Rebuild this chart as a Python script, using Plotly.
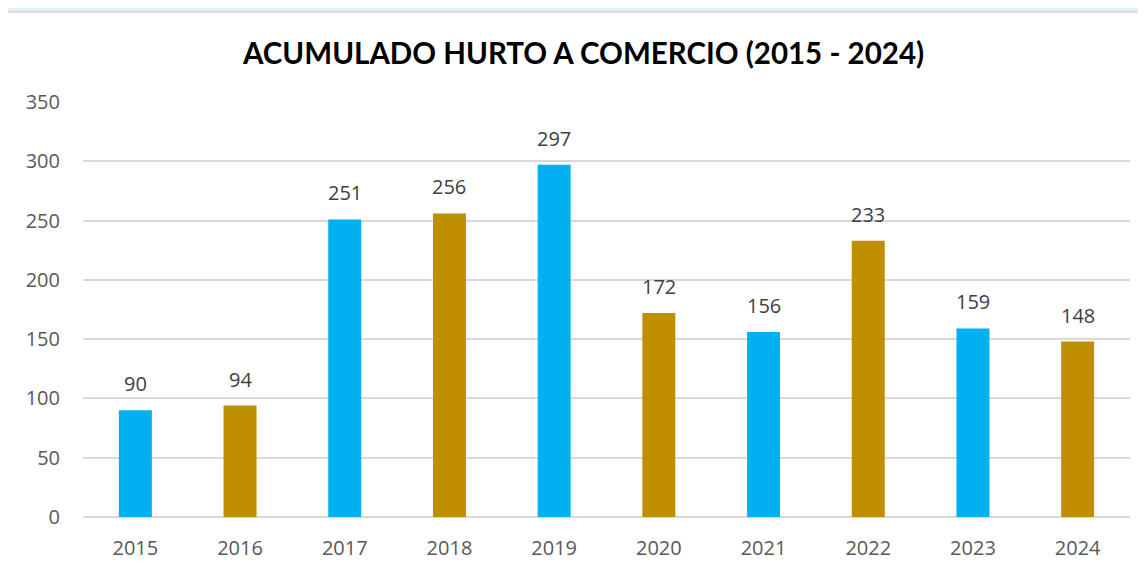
import plotly.graph_objects as go

years = ["2015", "2016", "2017", "2018", "2019", "2020", "2021", "2022", "2023", "2024"]
values = [90, 94, 251, 256, 297, 172, 156, 233, 159, 148]
bar_colors = ["#00B0F0", "#BF8F00", "#00B0F0", "#BF8F00", "#00B0F0",
              "#BF8F00", "#00B0F0", "#BF8F00", "#00B0F0", "#BF8F00"]
y_ticks = [0, 50, 100, 150, 200, 250, 300, 350]
title_text = "ACUMULADO HURTO A COMERCIO (2015 - 2024)"

W, H = 1146, 571
OFF = 8  # page body margin offset
L, T = 83 - OFF, 102 - OFF
R = W - (1130 - OFF)
B = H - (517 - OFF)
pw, ph = W - L - R, H - T - B

def px_x(p):
    return (p - OFF - L) / pw

def px_y(p):
    return (H - B - (p - OFF)) / ph

fig = go.Figure()
fig.add_trace(go.Bar(
    x=years, y=values, marker=dict(color=bar_colors, line=dict(width=0)),
    hoverinfo="x+y", showlegend=False,
))

annotations = []
for i, v in enumerate(values):
    annotations.append(dict(
        x=i, y=v, xref="x", yref="y", text=str(v), showarrow=False,
        yanchor="bottom", yshift=11,
        font=dict(family="Open Sans, Liberation Sans, sans-serif", size=20, color="#404040"),
    ))
annotations.append(dict(
    x=px_x(582.5), y=px_y(52), xref="paper", yref="paper", text="<b>" + title_text + "</b>",
    showarrow=False, xanchor="center", yanchor="middle",
    font=dict(family="Lato, DejaVu Sans, sans-serif", size=29.5, color="#000000"),
))

shapes = [
    dict(type="rect", xref="paper", yref="paper",
         x0=px_x(0), x1=px_x(W + 20), y0=px_y(12), y1=px_y(0),
         fillcolor="#E2EEF5", line=dict(width=0), layer="below"),
    dict(type="rect", xref="paper", yref="paper",
         x0=px_x(7), x1=px_x(W + 20), y0=px_y(H + 20), y1=px_y(12),
         fillcolor="#FFFFFF", line=dict(color="#D6D6D6", width=1.5), layer="below"),
]

fig.update_layout(
    width=W, height=H,
    margin=dict(l=L, r=R, t=T, b=B, pad=0),
    paper_bgcolor="#FFFFFF",
    plot_bgcolor="rgba(0,0,0,0)",
    bargap=0.685,
    annotations=annotations,
    shapes=shapes,
    xaxis=dict(
        type="category", range=[-0.5, len(years) - 0.5], autorange=False,
        showgrid=False, zeroline=False, showline=False,
        ticks="", ticklabelstandoff=17,
        tickfont=dict(family="Open Sans, Liberation Sans, sans-serif", size=20, color="#595959"),
    ),
    yaxis=dict(
        range=[0, 350], autorange=False, tickvals=y_ticks, showgrid=True, gridcolor="#D9D9D9", gridwidth=1.5,
        zeroline=True, zerolinecolor="#D9D9D9", zerolinewidth=1.5,
        showline=False, ticks="", ticklabelstandoff=22,
        tickfont=dict(family="Open Sans, Liberation Sans, sans-serif", size=20, color="#595959"),
    ),
)

fig.write_html("out.html")
